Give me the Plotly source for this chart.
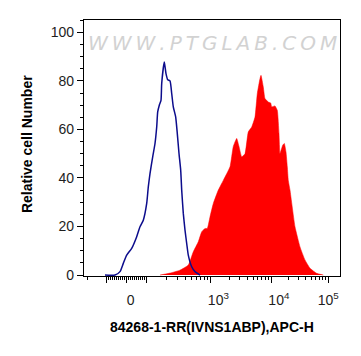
import numpy as np
import plotly.graph_objects as go

# ---- data (x in biexponential display units: 0 -> value 0, 1 -> value 100) ----
CTRL_X = [-1.085, -0.585, -0.335, -0.17, 0.0, 0.25, 0.5, 0.665, 0.83, 1.0, 1.08,
          1.165, 1.3, 1.415, 1.5, 1.55, 1.63, 1.715, 1.75, 1.88, 1.965, 2.05,
          2.165, 2.25, 2.33, 2.45, 2.53, 2.615, 2.7, 2.75, 2.83, 2.915, 3.0,
          3.08, 3.25, 3.415, 3.665]
CTRL_Y = [0, 0, 1.4, 4.8, 8.2, 11, 15.8, 19.9, 22.6, 29.5, 36.3,
          41.8, 48.7, 54.2, 61, 67.2, 70, 72, 78.9, 87.8, 83, 80.5,
          80, 74.8, 69.3, 65.1, 58.3, 50.1, 43.2, 35, 25.4, 18.5, 13,
          8.2, 3.4, 1.4, 0]

SAMPLE_X = [1.665, 2.165, 2.665, 3.08, 3.33, 3.58, 3.75, 3.915, 4.03, 4.165,
            4.33, 4.58, 4.83, 5.165, 5.33, 5.5, 5.615, 5.75, 5.915, 6.08,
            6.25, 6.415, 6.53, 6.665, 6.715, 6.83, 6.915, 7.08, 7.2, 7.25,
            7.415, 7.53, 7.615, 7.665, 7.8, 7.88, 7.965, 8.03, 8.08, 8.165,
            8.415, 8.665, 8.915, 9.165, 9.5, 9.83]
SAMPLE_Y = [0, 0.8, 2, 4.1, 9.6, 13.7, 17.8, 19.2, 19.2, 24,
            29.5, 35, 39, 44.6, 53, 56.3, 53, 48.7, 50, 59,
            61, 65.1, 74.8, 81, 82.3, 77.5, 72.7, 71.3, 70.9, 69.3,
            69.7, 67.9, 58.3, 50.1, 53.5, 54.2, 50.7, 44.6, 39, 35,
            19.9, 11.6, 6.2, 2.8, 0.7, 0]

X_MAJOR_VALUES = [-100, 0, 100, 1000, 10000, 100000]
NB = "\u00a0"
X_MAJOR_LABELS = ["", NB * 2 + "0", "", NB * 4 + "10<sup>3</sup>",
                  NB * 4 + "10<sup>4</sup>", "10<sup>5</sup>"]
Y_TICKS = [0, 20, 40, 60, 80, 100]

X_TITLE = "84268-1-RR(IVNS1ABP),APC-H"
Y_TITLE = "Relative cell Number"
WATERMARK = "WWW.PTGLAB.COM"


def biex(v):
    """Biexponential-like display transform: linear near zero, log above 100."""
    v = np.asarray(v, dtype=float)
    a = np.abs(v)
    L = np.log10(np.maximum(a, 100.0) / 100.0)
    out = np.where(a <= 100, a / 100.0, 1.0 + 3.28 * L - 0.085 * L ** 2)
    return np.sign(v) * out


minor_vals = [s * m for s in (-1, 1) for m in range(10, 100, 10)]
for dec in (100, 1000, 10000):
    for m in range(2, 10):
        minor_vals += [m * dec, -m * dec]
minor_vals.append(200000)

fig = go.Figure()
fig.add_trace(go.Scatter(
    x=SAMPLE_X, y=SAMPLE_Y, mode="lines", fill="tozeroy",
    fillcolor="#ff0000", line=dict(color="#ff0000", width=0.5,
                                   shape="spline", smoothing=0.4),
    hoverinfo="skip", showlegend=False))
fig.add_trace(go.Scatter(
    x=CTRL_X, y=CTRL_Y, mode="lines",
    line=dict(color="#0c0c8c", width=1.5, shape="spline", smoothing=0.5),
    hoverinfo="skip", showlegend=False))

tick_font = dict(family="Liberation Sans, Arial, sans-serif", size=14, color="#1e1e1e")

# the page body adds an 8px offset, so margins are trimmed on the left/top
fig.update_layout(
    width=361, height=356,
    margin=dict(l=76, r=29, t=12, b=88),
    paper_bgcolor="white", plot_bgcolor="white",
    xaxis=dict(
        range=[-2.135, 10.665], showgrid=False, zeroline=False,
        showline=True, linecolor="black", linewidth=1.3, mirror=True,
        tickmode="array", tickvals=biex(X_MAJOR_VALUES).tolist(),
        ticktext=X_MAJOR_LABELS, ticks="outside", ticklen=6, tickwidth=1.3,
        tickcolor="black", tickfont=tick_font, ticklabelstandoff=5,
        minor=dict(tickmode="array", tickvals=biex(minor_vals).tolist(),
                   ticks="outside", ticklen=3, tickwidth=1, tickcolor="black"),
    ),
    yaxis=dict(
        range=[-0.4, 105.1], showgrid=False, zeroline=False,
        showline=True, linecolor="black", linewidth=1.3, mirror=True,
        tickmode="array", tickvals=Y_TICKS, ticks="outside", ticklen=6,
        tickwidth=1.3, tickcolor="black", tickfont=tick_font,
        minor=dict(dtick=5, ticks="outside", ticklen=3, tickwidth=1,
                   tickcolor="black"),
    ),
    annotations=[
        dict(text="\u2009".join(WATERMARK), xref="paper", yref="paper",
             x=0.5, y=0.963, showarrow=False,
             font=dict(family="DejaVu Sans", size=20, color="#d2d2d2",
                       style="italic")),
        dict(text="<b>" + X_TITLE + "</b>", xref="paper", yref="paper",
             x=0.5, y=-0.2, yanchor="middle", showarrow=False,
             font=dict(family="Liberation Sans, Arial, sans-serif", size=14,
                       color="black")),
        dict(text="<b>" + Y_TITLE + "</b>", xref="paper", yref="paper",
             x=-0.223, y=0.515, textangle=-90, xanchor="center",
             yanchor="middle", showarrow=False,
             font=dict(family="Liberation Sans, Arial, sans-serif", size=14,
                       color="black")),
    ],
)

fig.write_html("out.html")
